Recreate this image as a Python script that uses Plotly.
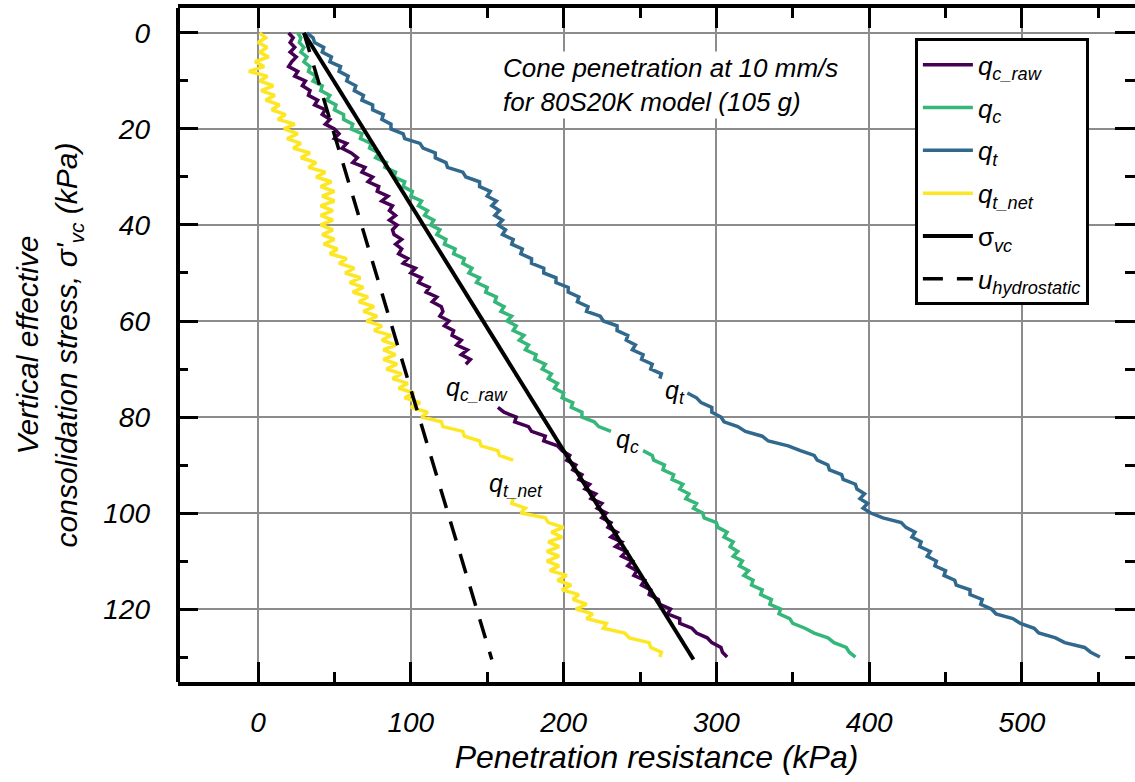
import plotly.graph_objects as go

# ---------------- data ----------------
depth = list(range(0, 131))  # vertical effective stress sampling (kPa)

q_c_raw = [20, 23, 21, 24, 21, 25, 22, 20, 26, 24,
           31, 29, 34, 33, 39, 37, 44, 42, 47, 44,
           50, 53, 50, 58, 55, 61, 65, 62, 70, 68,
           75, 72, 79, 78, 85, 81, 88, 86, 90, 86,
           91, 88, 89, 94, 90, 94, 92, 98, 95, 103,
           100, 107, 105, 112, 110, 117, 114, 120, 121, 119,
           125, 122, 128, 127, 133, 130, 137, 133, 139, 136,
           None, None, None, None, None, None, None, None, 157, 161,
           169, 168, 177, 179, 188, 187, 196, 199, 204, 202,
           208, 206, 212, 210, 217, 214, 221, 218, 225, 222,
           228, 225, 231, 229, 235, 231, 238, 234, 241, 238,
           245, 242, 248, 246, 253, 251, 257, 256, 262, 263,
           270, 268, 276, 276, 284, 287, 294, 297, 303, 304,
           307]

q_c = [26, 28, 27, 30, 28, 32, 30, 34, 33, 38,
       36, 42, 41, 47, 45, 51, 50, 56, 56, 62,
       61, 68, 67, 74, 73, 79, 77, 84, 83, 90,
       89, 96, 95, 101, 100, 107, 105, 111, 109, 115,
       113, 119, 117, 123, 122, 129, 128, 135, 134, 140,
       138, 145, 143, 150, 149, 156, 155, 161, 159, 166,
       163, 169, 167, 174, 171, 177, 175, 182, 181, 188,
       186, 192, 190, 196, 194, 200, 199, 206, 205, 212,
       212, 220, 223, 231, None, None, None, 252, 258, 259,
       266, 265, 272, 271, 278, 276, 282, 280, 287, 285,
       291, 292, 300, 301, 307, 305, 311, 309, 314, 311,
       317, 315, 321, 318, 324, 323, 330, 329, 336, 335,
       342, 341, 348, 350, 358, 364, 373, 377, 385, 387,
       391]

q_t = [32, 36, 37, 43, 42, 48, 47, 54, 53, 59,
       58, 64, 63, 69, 68, 75, 75, 82, 81, 87,
       87, 95, 96, 106, 108, 116, 116, 123, 124, 134,
       136, 145, 145, 152, 150, 156, 153, 158, 155, 160,
       157, 162, 160, 167, 166, 173, 172, 179, 179, 187,
       187, 195, 195, 203, 203, 210, 209, 216, 215, 224,
       226, 235, 235, 242, 241, 247, 245, 252, 251, 258,
       257, 264, 263, None, None, 281, 287, 290, 297, 297,
       303, 305, 314, 319, 330, 334, 347, 355, 364, 366,
       373, 374, 382, 383, 391, 392, 397, 394, 399, 396,
       401, 409, 421, 424, 430, 428, 434, 433, 440, 438,
       444, 443, 450, 449, 456, 457, 466, 466, 474, 473,
       480, 483, 494, 499, 508, 511, 522, 528, 541, 545,
       551]

q_t_net = [1, 5, 0, 6, 1, 7, -2, 4, -6, 6,
           1, 10, 2, 11, 5, 14, 9, 18, 13, 24,
           17, 26, 19, 28, 23, 34, 28, 38, 33, 44,
           38, 48, 41, 50, 42, 50, 41, 49, 41, 49,
           41, 49, 42, 50, 43, 52, 47, 58, 53, 63,
           57, 67, 60, 69, 62, 72, 66, 76, 69, 78,
           71, 81, 76, 87, 81, 90, 82, 90, 82, 91,
           84, 94, 88, 98, 92, 102, 96, 106, 100, 111,
           107, 120, 121, 134, 135, 145, 146, 157, 158, 167,
           None, None, None, None, None, None, None, 167, 166, 175,
           172, 188, 190, 200, 192, 199, 190, 197, 189, 197,
           189, 197, 191, 202, 196, 205, 199, 210, 206, 215,
           208, 219, 215, 228, 226, 240, 243, 256, 257, 264,
           263]

sigma_vc_x = [30, 285]
sigma_vc_y = [0, 130.5]
u_hydro_x = [30, 153]
u_hydro_y = [0, 130.5]

x_ticks = [0, 100, 200, 300, 400, 500]
x_minor = [50, 150, 250, 350, 450, 550]
y_ticks = [0, 20, 40, 60, 80, 100, 120]
y_minor = [10, 30, 50, 70, 90, 110, 130]

FONT = "Liberation Sans, Arial, sans-serif"

series = [
    ("<i>q<sub>c_raw</sub></i>", q_c_raw, "#440154"),
    ("<i>q<sub>c</sub></i>", q_c, "#35b779"),
    ("<i>q<sub>t</sub></i>", q_t, "#31688e"),
    ("<i>q<sub>t_net</sub></i>", q_t_net, "#fde725"),
]

fig = go.Figure()
for i, (name, xs, col) in enumerate(series):
    fig.add_trace(go.Scatter(x=xs, y=depth, mode="lines", name=name,
                             legendgroup=f"g{i}",
                             line=dict(color=col, width=3.5),
                             connectgaps=False))

fig.add_trace(go.Scatter(x=sigma_vc_x, y=sigma_vc_y, mode="lines",
                         name="σ<sub><i>vc</i></sub>", legendgroup="g4",
                         line=dict(color="black", width=4)))
fig.add_trace(go.Scatter(x=u_hydro_x, y=u_hydro_y, mode="lines",
                         name="<i>u<sub>hydrostatic</sub></i>", legendgroup="g5",
                         line=dict(color="black", width=3.5, dash="20px,14px")))

axis_common = dict(
    ticks="inside", tickwidth=3, tickcolor="black", ticklen=20,
    showgrid=True, gridcolor="#8c8c8c", gridwidth=2, zeroline=False,
    mirror="ticks", automargin=False,
    tickfont=dict(family=FONT, size=28, style="italic", color="black"),
)

fig.update_xaxes(
    range=[-52.4, 574], tickmode="array", tickvals=x_ticks,
    ticktext=[str(v) for v in x_ticks],
    showline=True, linewidth=4, linecolor="black",
    ticklabelstandoff=12,
    minor=dict(tickmode="array", tickvals=x_minor, ticks="inside", ticklen=10,
               tickwidth=3, tickcolor="black", showgrid=False),
    title=dict(text="<i>Penetration resistance (kPa)</i>",
               font=dict(family=FONT, size=32, color="black"), standoff=10),
    **axis_common,
)
fig.update_yaxes(
    range=[135.2, -5.2], tickmode="array", tickvals=y_ticks,
    ticktext=[str(v) for v in y_ticks],
    showline=False,
    ticklabelstandoff=27,
    minor=dict(tickmode="array", tickvals=y_minor, ticks="inside", ticklen=10,
               tickwidth=3, tickcolor="black", showgrid=False),
    title=dict(text="<i>Vertical effective<br>consolidation stress, σ'<sub>vc</sub> (kPa)</i>",
               font=dict(family=FONT, size=30, color="black"), standoff=16),
    **axis_common,
)

# left frame line
fig.add_shape(type="line", xref="paper", yref="paper", x0=0, x1=0, y0=0, y1=1,
              line=dict(color="black", width=4), layer="above")

fig.add_annotation(x=159, y=10.8, xref="x", yref="y", xanchor="left", yanchor="middle",
                   align="left", showarrow=False, bgcolor="white",
                   text="<i>Cone penetration at 10 mm/s<br>for 80S20K model (105 g)</i>",
                   font=dict(family=FONT, size=26, color="black"))

labels = [
    ("<i>q<sub>c_raw</sub></i>", 143, 74.2),
    ("<i>q<sub>t</sub></i>", 273, 74.8),
    ("<i>q<sub>c</sub></i>", 241.5, 85),
    ("<i>q<sub>t_net</sub></i>", 169, 94.2),
]
for txt, lx, ly in labels:
    fig.add_annotation(x=lx, y=ly, xref="x", yref="y", text=txt, showarrow=False,
                       font=dict(family=FONT, size=25, color="black"))

fig.update_layout(
    width=1135, height=782,
    margin=dict(l=178, r=0, t=8, b=100),
    plot_bgcolor="white", paper_bgcolor="white",
    font=dict(family=FONT, color="black"),
    showlegend=True,
    legend=dict(x=0.77, y=0.955, xanchor="left", yanchor="top",
                bordercolor="black", borderwidth=3, bgcolor="white",
                font=dict(family=FONT, size=26, color="black"),
                tracegroupgap=6, itemwidth=50),
)

fig.write_html("out.html")
